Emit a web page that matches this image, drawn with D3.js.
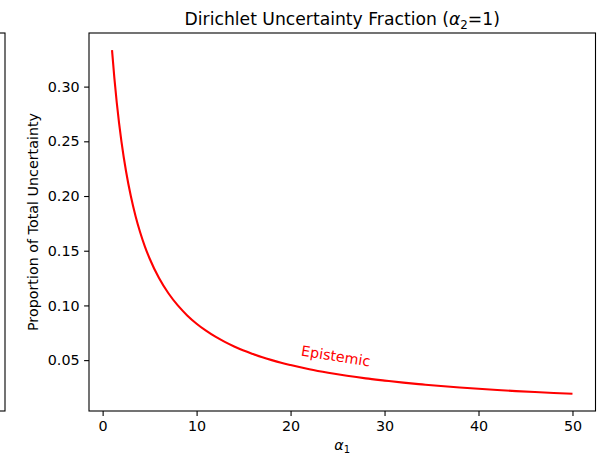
<!DOCTYPE html>
<html><head><meta charset="utf-8">
<script src="https://cdn.jsdelivr.net/npm/d3@7"></script>
<style>body{margin:0;background:#fff}svg{display:block;font-family:"DejaVu Sans",sans-serif}</style>
</head><body><svg id="c" width="603" height="455"></svg>
<script>
const alpha1 = [1,1.25,1.5,1.75,2,2.5,3,3.5,4,4.5,5,6,7,8,9,10,11,12,13,14,15,16,17,18,19,20,22,24,26,28,30,32,34,36,38,40,42,44,46,48,50];
const epistemic = [0.3333,0.3077,0.2857,0.2667,0.2500,0.2222,0.2000,0.1818,0.1667,0.1538,0.1429,0.1250,0.1111,0.1000,0.0909,0.0833,0.0769,0.0714,0.0667,0.0625,0.0588,0.0556,0.0526,0.0500,0.0476,0.0455,0.0417,0.0385,0.0357,0.0333,0.0313,0.0294,0.0278,0.0263,0.0250,0.0238,0.0227,0.0217,0.0208,0.0200,0.0192];
const xTicks = [0,10,20,30,40,50];
const yTicks = [0.05,0.10,0.15,0.20,0.25,0.30];

const svg = d3.select("#c");
const L=89, R=595.5, T=33, B=411;
const x = d3.scaleLinear().domain([-1.45,52.45]).range([L,R]);
const y = d3.scaleLinear().domain([0.0035,0.3490]).range([B,T]);

// partial neighbouring subplot frame
svg.append("rect").attr("x",-20).attr("y",T).attr("width",25).attr("height",B-T)
  .attr("fill","none").attr("stroke","#000").attr("stroke-width",1.1);

const line = d3.line().x((d,i)=>x(alpha1[i])).y(d=>y(d)).curve(d3.curveMonotoneX);
svg.append("path").datum(epistemic).attr("d",line).attr("fill","none")
  .attr("stroke","#ff0000").attr("stroke-width",2.1);

const xa = svg.append("g").attr("transform",`translate(0,${B})`)
  .call(d3.axisBottom(x).tickValues(xTicks).tickFormat(d3.format("d")).tickSize(4.9).tickPadding(4.5));
const ya = svg.append("g").attr("transform",`translate(${L},0)`)
  .call(d3.axisLeft(y).tickValues(yTicks).tickFormat(d3.format(".2f")).tickSize(4.9).tickPadding(4.5));
[xa,ya].forEach(a=>{a.select(".domain").remove();
  a.selectAll("text").attr("font-size","14.3px").attr("fill","#000").attr("font-family","DejaVu Sans");
  a.selectAll("line").attr("stroke","#000").attr("stroke-width",1.1);});

svg.append("rect").attr("x",L).attr("y",T).attr("width",R-L).attr("height",B-T)
  .attr("fill","none").attr("stroke","#000").attr("stroke-width",1.1);

// title
const t = svg.append("text").attr("x",(L+R)/2).attr("y",25).attr("text-anchor","middle")
  .attr("font-size","17.2px").attr("fill","#000");
t.append("tspan").text("Dirichlet Uncertainty Fraction (");
t.append("tspan").attr("font-style","italic").text("α");
t.append("tspan").attr("font-size","11.8px").attr("dy",4).text("2");
t.append("tspan").attr("dy",-4).text("=1)");

// x label
const xl = svg.append("text").attr("x",(L+R)/2).attr("y",450).attr("text-anchor","middle")
  .attr("font-size","14.3px").attr("fill","#000");
xl.append("tspan").attr("font-style","italic").text("α");
xl.append("tspan").attr("font-size","10px").attr("dy",3).text("1");

// y label
svg.append("text").attr("transform",`translate(38,${(T+B)/2}) rotate(-90)`).attr("text-anchor","middle")
  .attr("font-size","14.3px").attr("fill","#000").text("Proportion of Total Uncertainty");

// annotation
svg.append("text").attr("transform","translate(335,361) rotate(9)").attr("text-anchor","middle")
  .attr("font-size","14.3px").attr("fill","#ff0000").text("Epistemic");
</script></body></html>
